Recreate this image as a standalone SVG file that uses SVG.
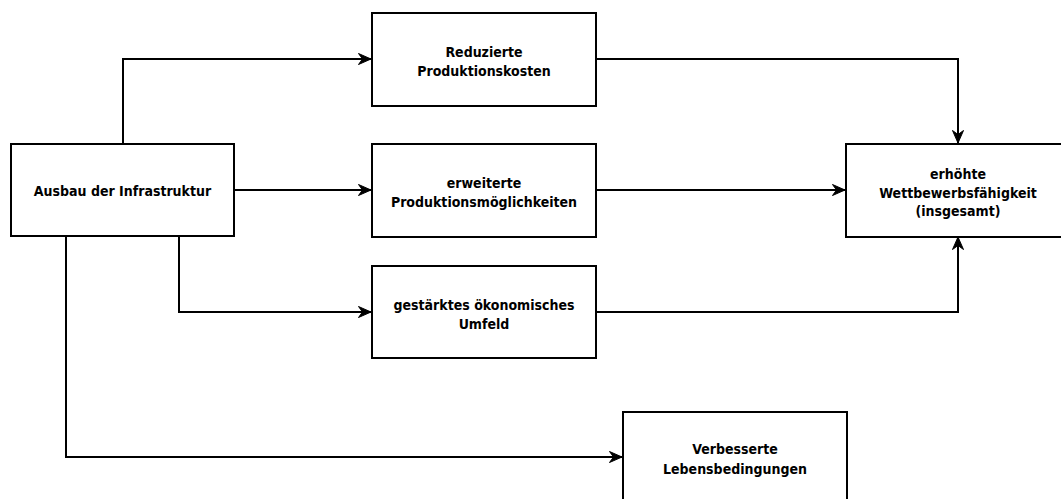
<svg xmlns="http://www.w3.org/2000/svg" width="1061" height="499" viewBox="0 0 1061 499">
<style>
.box{fill:#fff;stroke:#000;stroke-width:2}
.lbl{font-family:"DejaVu Sans Condensed","DejaVu Sans",Verdana,sans-serif;font-stretch:condensed;font-weight:bold;font-size:14px;fill:#000;text-anchor:middle}
.con{fill:none;stroke:#000;stroke-width:2}
</style>
<defs>
<marker id="arr" viewBox="0 0 14 12" refX="13" refY="6" markerWidth="14" markerHeight="12" markerUnits="userSpaceOnUse" orient="auto">
<path d="M0.5,0.5 L13,6 L0.5,11.5 L4.5,6 Z" fill="#000" stroke="#000" stroke-width="1" stroke-linejoin="miter"/>
</marker>
</defs>
<rect width="1061" height="499" fill="#fff"/>
<g id="connectors">
<path class="con" d="M123,144 V59 H371" marker-end="url(#arr)"/>
<path class="con" d="M234,190 H371" marker-end="url(#arr)"/>
<path class="con" d="M179,236 V312 H371" marker-end="url(#arr)"/>
<path class="con" d="M66,236 V457 H622" marker-end="url(#arr)"/>
<path class="con" d="M596,59 H958 V143" marker-end="url(#arr)"/>
<path class="con" d="M596,190 H845" marker-end="url(#arr)"/>
<path class="con" d="M596,312 H958 V237" marker-end="url(#arr)"/>
</g>
<g id="ausbau">
<rect class="box" x="11" y="144" width="223" height="92"/>
<text class="lbl" x="122.5" y="196">Ausbau der Infrastruktur</text>
</g>
<g id="reduzierte">
<rect class="box" x="372" y="13" width="224" height="93"/>
<text class="lbl" x="484" y="56.5">Reduzierte</text>
<text class="lbl" x="484" y="76">Produktionskosten</text>
</g>
<g id="erweiterte">
<rect class="box" x="372" y="144" width="224" height="93"/>
<text class="lbl" x="484" y="187.5">erweiterte</text>
<text class="lbl" x="484" y="207">Produktionsmöglichkeiten</text>
</g>
<g id="gestaerktes">
<rect class="box" x="372" y="266" width="224" height="92"/>
<text class="lbl" x="484" y="309.5">gestärktes ökonomisches</text>
<text class="lbl" x="484" y="329">Umfeld</text>
</g>
<g id="wettbewerb">
<rect class="box" x="846" y="144" width="224" height="93"/>
<text class="lbl" x="958" y="179">erhöhte</text>
<text class="lbl" x="958" y="197.5">Wettbewerbsfähigkeit</text>
<text class="lbl" x="958" y="216">(insgesamt)</text>
</g>
<g id="verbesserte">
<rect class="box" x="623" y="412" width="224" height="93"/>
<text class="lbl" x="735" y="454">Verbesserte</text>
<text class="lbl" x="735" y="473.5">Lebensbedingungen</text>
</g>
</svg>
